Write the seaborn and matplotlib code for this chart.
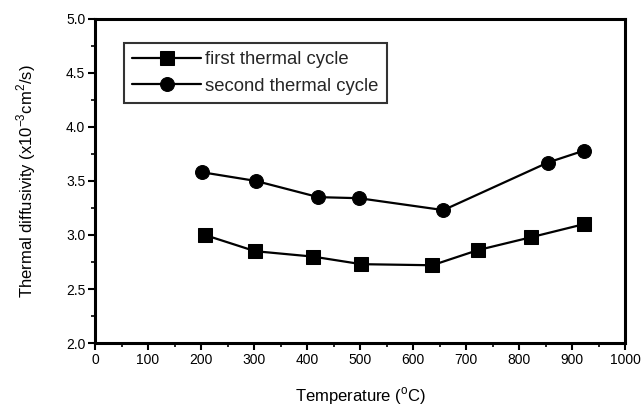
import matplotlib
matplotlib.use("Agg")
import matplotlib.pyplot as plt
from matplotlib.ticker import MultipleLocator
import seaborn as sns
import pandas as pd

sns.set_theme(style="white")
plt.rcParams['font.family'] = ['Liberation Sans', 'DejaVu Sans']

first_temp = [207, 302, 411, 502, 636, 722, 823, 922]
first_diff = [3.00, 2.85, 2.80, 2.73, 2.72, 2.86, 2.98, 3.10]
second_temp = [202, 303, 421, 498, 657, 854, 922]
second_diff = [3.58, 3.50, 3.35, 3.34, 3.23, 3.67, 3.78]
series_names = ["first thermal cycle", "second thermal cycle"]

df = pd.concat([
    pd.DataFrame({"T": first_temp, "D": first_diff, "cycle": series_names[0]}),
    pd.DataFrame({"T": second_temp, "D": second_diff, "cycle": series_names[1]}),
])

fig = plt.figure(figsize=(6.42, 4.07), dpi=100)
ax = fig.add_axes([0.148, 0.157, 0.826, 0.797])

sns.lineplot(data=df, x="T", y="D", hue="cycle", style="cycle",
             markers={series_names[0]: "s", series_names[1]: "o"}, dashes=False,
             palette={series_names[0]: "black", series_names[1]: "black"},
             markersize=10, linewidth=1.6, markeredgecolor="black", ax=ax,
             sort=False, legend=True)

ax.set_xlim(0, 1000)
ax.set_ylim(2.0, 5.0)
ax.xaxis.set_major_locator(MultipleLocator(100))
ax.xaxis.set_minor_locator(MultipleLocator(50))
ax.yaxis.set_major_locator(MultipleLocator(0.5))
ax.yaxis.set_minor_locator(MultipleLocator(0.25))
ax.yaxis.set_major_formatter(matplotlib.ticker.FormatStrFormatter('%.1f'))
ax.tick_params(axis='both', which='major', direction='out', length=5, width=1.5,
               labelsize=10, color='black', labelcolor='black', pad=2,
               bottom=True, left=True, top=False, right=False)
ax.tick_params(axis='both', which='minor', direction='out', length=3, width=1.2,
               color='black', bottom=True, left=True, top=False, right=False)
for side in ["left", "bottom", "top", "right"]:
    ax.spines[side].set_color("black")
    ax.spines[side].set_linewidth(2.2)
ax.set_xlabel("Temperature ($^{\\mathregular{o}}$C)", fontsize=12, color="black", labelpad=13)
ax.set_ylabel("Thermal diffusivity (x10$^{\\mathregular{-3}}$cm$^{\\mathregular{2}}$/s)",
              fontsize=12, color="black", labelpad=20)

leg = ax.legend(loc="upper left", bbox_to_anchor=(0.055, 0.925), borderaxespad=0,
                frameon=True, fontsize=13.3, handlelength=3.7, handletextpad=0.25,
                borderpad=0.45, labelspacing=0.5, fancybox=False,
                title=None)
leg.get_frame().set_edgecolor("black")
leg.get_frame().set_linewidth(1.5)

fig.savefig("out.png", dpi=100)
